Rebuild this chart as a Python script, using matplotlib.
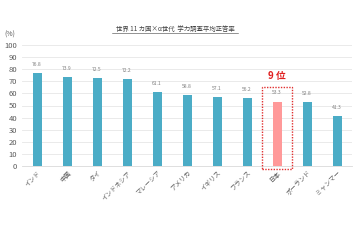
import matplotlib
matplotlib.use("Agg")
import matplotlib.pyplot as plt
from matplotlib.patches import Rectangle

plt.rcParams['font.family'] = ['Noto Sans CJK JP', 'DejaVu Sans']

countries = ["インド", "中国", "タイ", "インドネシア", "マレーシア", "アメリカ",
             "イギリス", "フランス", "日本", "ポーランド", "ミャンマー"]
values = [76.8, 73.9, 72.5, 72.2, 61.1, 58.8, 57.1, 56.2, 53.3, 52.8, 41.3]
highlight = "日本"
yticks = [0, 10, 20, 30, 40, 50, 60, 70, 80, 90, 100]
title = "世界 11 カ国×α世代  学力調査平均正答率"
rank_label = "9 位"

fig = plt.figure(figsize=(3.6, 2.4), dpi=100)
ax = fig.add_axes([22/360, 1 - 166/240, 330/360, 121/240])

x = list(range(len(countries)))
colors = ["#FF9999" if c == highlight else "#4BACC6" for c in countries]
ax.bar(x, values, width=0.3, color=colors, zorder=3)
for xi, v in zip(x, values):
    ax.text(xi, v + 5, f"{v}", ha="center", va="bottom", fontsize=3.6, color="#808080")

ax.set_xlim(-0.5, len(countries) - 0.5)
ax.set_ylim(0, 100)
ax.set_yticks(yticks)
ax.tick_params(axis="y", labelsize=5.5, colors="#595959", length=0, pad=3.5)
ax.set_xticks(x)
ax.set_xticklabels(countries, rotation=45, ha="right", rotation_mode="anchor",
                   fontsize=4.6, color="#595959")
ax.tick_params(axis="x", length=0, pad=2)
ax.grid(axis="y", color="#E6E6E6", linewidth=0.6, zorder=0)
for s in ["top", "right", "left"]:
    ax.spines[s].set_visible(False)
ax.spines["bottom"].set_color("#D9D9D9")
ax.spines["bottom"].set_linewidth(0.6)

hi = countries.index(highlight)
rect = Rectangle((hi - 0.5, -2.5), 1.0, 67.8, fill=False, edgecolor="#E03030",
                 linestyle=(0, (1, 1)), linewidth=1.0, clip_on=False, zorder=4)
ax.add_patch(rect)
ax.text(hi, 70, rank_label, ha="center", va="bottom", fontsize=7, color="#E02020",
        fontweight="bold")

fig.text(175/360, 1 - 29/240, title, ha="center", va="center", fontsize=4.6,
         color="#404040")
fig.add_artist(plt.Line2D([112/360, 238/360], [1 - 33/240, 1 - 33/240],
                          color="#404040", linewidth=0.4))
fig.text(10/360, 1 - 35/240, "(%)", ha="center", va="center", fontsize=5, color="#595959")

fig.savefig("out.png", dpi=100, facecolor="white")
